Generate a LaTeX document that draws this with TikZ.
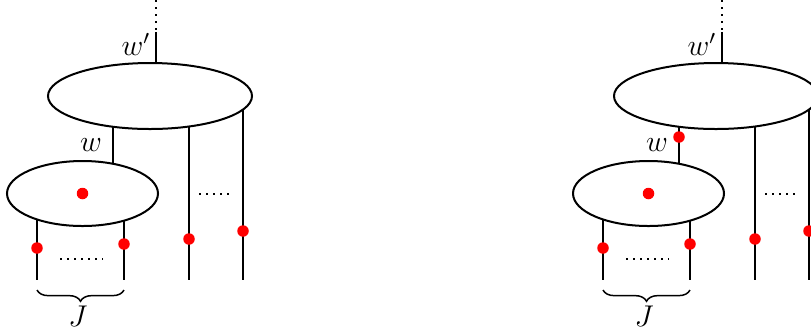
\documentclass[tikz,border=0pt]{standalone}
\usetikzlibrary{shapes.geometric,decorations.pathreplacing}

\begin{document}
\begin{tikzpicture}[x=0.4pt, y=-0.4pt, every node/.style={font=\large},
    bigell/.style={draw, thick, fill=white, ellipse, inner sep=0pt, minimum width=81.6pt, minimum height=26.4pt},
    smallell/.style={draw, thick, fill=white, ellipse, inner sep=0pt, minimum width=60.4pt, minimum height=26pt},
    reddot/.style={circle, fill=red, inner sep=0pt, minimum size=4.6pt}]
  \clip (0,0) rectangle (811,335);

  \begin{scope}
    \coordinate (cbigL) at (150,96);
    \coordinate (csmallL) at (82.5,193.5);
    \coordinate (topL) at (156,0);
    \coordinate (wpL) at (156,32);
    \coordinate (wL) at (113,0);
    \coordinate (f1L) at (37,280);
    \coordinate (f2L) at (124,280);
    \coordinate (f3L) at (189,280);
    \coordinate (f4L) at (243,280);

    \draw[thick, dotted] (topL) -- (wpL);
    \draw[thick] (wpL) -- (wpL |- cbigL);
    \draw[thick] (wL |- cbigL) -- (wL |- csmallL);
    \draw[thick] (f1L |- csmallL) -- (f1L);
    \draw[thick] (f2L |- csmallL) -- (f2L);
    \draw[thick] (f3L |- cbigL) -- (f3L);
    \draw[thick] (f4L |- cbigL) -- (f4L);

    \node[bigell] (bigL) at (cbigL) {};
    \node[smallell] (smallL) at (csmallL) {};
    \node at (136,44) (wplabL) {$w'$};
    \node at (91,145) (wlabL) {$w$};

    \node[reddot] (d0L) at (smallL.center) {};
    \node[reddot] (d1L) at (37,248) {};
    \node[reddot] (d2L) at (124,244) {};
    \node[reddot] (d3L) at (189,239) {};
    \node[reddot] (d4L) at (243,231) {};

    \draw[thick, dotted] (60,259) -- (103,259);
    \draw[thick, dotted] (199,194) -- (232,194);

    \coordinate (b1L) at (37,290);
    \coordinate (b2L) at (124,290);
    \draw[semithick, decorate, decoration={brace, mirror, amplitude=4.5pt}] (b1L) -- (b2L);
    \node at (78,316) (JL) {$J$};
  \end{scope}

  \begin{scope}[shift={(566,0)}]
    \coordinate (cbigR) at (150,96);
    \coordinate (csmallR) at (82.5,193.5);
    \coordinate (topR) at (156,0);
    \coordinate (wpR) at (156,32);
    \coordinate (wR) at (113,0);
    \coordinate (f1R) at (37,280);
    \coordinate (f2R) at (124,280);
    \coordinate (f3R) at (189,280);
    \coordinate (f4R) at (243,280);

    \draw[thick, dotted] (topR) -- (wpR);
    \draw[thick] (wpR) -- (wpR |- cbigR);
    \draw[thick] (wR |- cbigR) -- (wR |- csmallR);
    \draw[thick] (f1R |- csmallR) -- (f1R);
    \draw[thick] (f2R |- csmallR) -- (f2R);
    \draw[thick] (f3R |- cbigR) -- (f3R);
    \draw[thick] (f4R |- cbigR) -- (f4R);

    \node[bigell] (bigR) at (cbigR) {};
    \node[smallell] (smallR) at (csmallR) {};
    \node at (136,44) (wplabR) {$w'$};
    \node at (91,145) (wlabR) {$w$};

    \node[reddot] (dwR) at (113,137) {};
    \node[reddot] (d0R) at (smallR.center) {};
    \node[reddot] (d1R) at (37,248) {};
    \node[reddot] (d2R) at (124,244) {};
    \node[reddot] (d3R) at (189,239) {};
    \node[reddot] (d4R) at (243,231) {};

    \draw[thick, dotted] (60,259) -- (103,259);
    \draw[thick, dotted] (199,194) -- (232,194);

    \coordinate (b1R) at (37,290);
    \coordinate (b2R) at (124,290);
    \draw[semithick, decorate, decoration={brace, mirror, amplitude=4.5pt}] (b1R) -- (b2R);
    \node at (78,316) (JR) {$J$};
  \end{scope}
\end{tikzpicture}
\end{document}
